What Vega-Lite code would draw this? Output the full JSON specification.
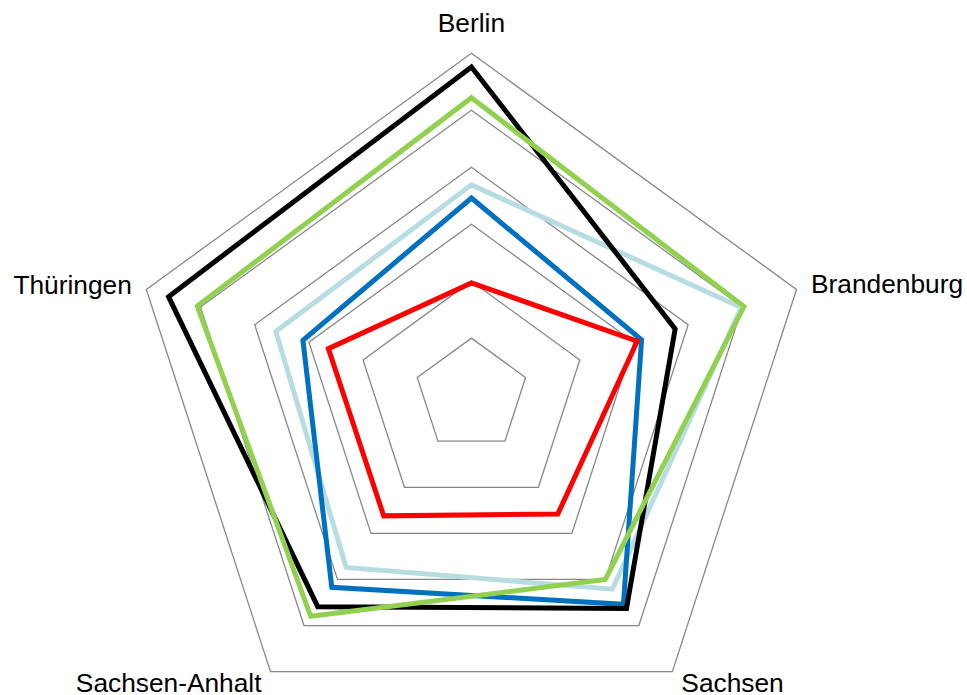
{
  "$schema": "https://vega.github.io/schema/vega-lite/v6.json",
  "width": 967,
  "height": 695,
  "padding": 0,
  "autosize": {"type": "none"},
  "background": "white",
  "config": {"view": {"stroke": null}},
  "datasets": {
    "grid": [
      {"ring": 1, "i": 0}, {"ring": 1, "i": 1}, {"ring": 1, "i": 2}, {"ring": 1, "i": 3}, {"ring": 1, "i": 4},
      {"ring": 2, "i": 0}, {"ring": 2, "i": 1}, {"ring": 2, "i": 2}, {"ring": 2, "i": 3}, {"ring": 2, "i": 4},
      {"ring": 3, "i": 0}, {"ring": 3, "i": 1}, {"ring": 3, "i": 2}, {"ring": 3, "i": 3}, {"ring": 3, "i": 4},
      {"ring": 4, "i": 0}, {"ring": 4, "i": 1}, {"ring": 4, "i": 2}, {"ring": 4, "i": 3}, {"ring": 4, "i": 4},
      {"ring": 5, "i": 0}, {"ring": 5, "i": 1}, {"ring": 5, "i": 2}, {"ring": 5, "i": 3}, {"ring": 5, "i": 4},
      {"ring": 6, "i": 0}, {"ring": 6, "i": 1}, {"ring": 6, "i": 2}, {"ring": 6, "i": 3}, {"ring": 6, "i": 4}
    ],
    "axes": [
      {"land": "Berlin", "i": 0, "r": 6},
      {"land": "Brandenburg", "i": 1, "r": 6},
      {"land": "Sachsen", "i": 2, "r": 6},
      {"land": "Sachsen-Anhalt", "i": 3, "r": 6},
      {"land": "Thüringen", "i": 4, "r": 6}
    ],
    "series": [
      {"s": "S1", "land": "Berlin", "i": 0, "v": 3.69},
      {"s": "S1", "land": "Brandenburg", "i": 1, "v": 4.98},
      {"s": "S1", "land": "Sachsen", "i": 2, "v": 4.21},
      {"s": "S1", "land": "Sachsen-Anhalt", "i": 3, "v": 3.74},
      {"s": "S1", "land": "Thüringen", "i": 4, "v": 3.61},
      {"s": "S2", "land": "Berlin", "i": 0, "v": 3.46},
      {"s": "S2", "land": "Brandenburg", "i": 1, "v": 3.14},
      {"s": "S2", "land": "Sachsen", "i": 2, "v": 4.54},
      {"s": "S2", "land": "Sachsen-Anhalt", "i": 3, "v": 4.17},
      {"s": "S2", "land": "Thüringen", "i": 4, "v": 3.11},
      {"s": "S3", "land": "Berlin", "i": 0, "v": 5.76},
      {"s": "S3", "land": "Brandenburg", "i": 1, "v": 3.76},
      {"s": "S3", "land": "Sachsen", "i": 2, "v": 4.63},
      {"s": "S3", "land": "Sachsen-Anhalt", "i": 3, "v": 4.59},
      {"s": "S3", "land": "Thüringen", "i": 4, "v": 5.59},
      {"s": "S4", "land": "Berlin", "i": 0, "v": 1.97},
      {"s": "S4", "land": "Brandenburg", "i": 1, "v": 3.06},
      {"s": "S4", "land": "Sachsen", "i": 2, "v": 2.58},
      {"s": "S4", "land": "Sachsen-Anhalt", "i": 3, "v": 2.62},
      {"s": "S4", "land": "Thüringen", "i": 4, "v": 2.64},
      {"s": "S5", "land": "Berlin", "i": 0, "v": 5.22},
      {"s": "S5", "land": "Brandenburg", "i": 1, "v": 5.03},
      {"s": "S5", "land": "Sachsen", "i": 2, "v": 4.0},
      {"s": "S5", "land": "Sachsen-Anhalt", "i": 3, "v": 4.8},
      {"s": "S5", "land": "Thüringen", "i": 4, "v": 5.06}
    ]
  },
  "layer": [
    {
      "data": {"name": "grid"},
      "transform": [
        {"calculate": "datum.ring * sin(datum.i * 2 * PI / 5)", "as": "x"},
        {"calculate": "datum.ring * cos(datum.i * 2 * PI / 5)", "as": "y"}
      ],
      "mark": {"type": "line", "interpolate": "linear-closed", "stroke": "#888888", "strokeWidth": 1.3},
      "encoding": {
        "x": {"field": "x", "type": "quantitative", "scale": {"domain": [-8.275, 8.699], "nice": false, "zero": false}, "axis": null},
        "y": {"field": "y", "type": "quantitative", "scale": {"domain": [-5.264, 6.935], "nice": false, "zero": false}, "axis": null},
        "detail": {"field": "ring", "type": "nominal"},
        "order": {"field": "i", "type": "quantitative"}
      }
    },
    {
      "data": {"name": "series"},
      "transform": [
        {"calculate": "datum.v * sin(datum.i * 2 * PI / 5)", "as": "x"},
        {"calculate": "datum.v * cos(datum.i * 2 * PI / 5)", "as": "y"}
      ],
      "mark": {"type": "line", "interpolate": "linear-closed", "strokeWidth": 5, "strokeJoin": "miter"},
      "encoding": {
        "x": {"field": "x", "type": "quantitative", "scale": {"domain": [-8.275, 8.699], "nice": false, "zero": false}, "axis": null},
        "y": {"field": "y", "type": "quantitative", "scale": {"domain": [-5.264, 6.935], "nice": false, "zero": false}, "axis": null},
        "color": {
          "field": "s",
          "type": "nominal",
          "scale": {"domain": ["S1", "S2", "S3", "S4", "S5"], "range": ["#b7dde2", "#0070c0", "#000000", "#ff0000", "#92d050"]},
          "legend": null
        },
        "order": {"field": "i", "type": "quantitative"}
      }
    },
    {
      "data": {"name": "axes"},
      "transform": [
        {"filter": "datum.i == 0"},
        {"calculate": "datum.r * sin(datum.i * 2 * PI / 5)", "as": "x"},
        {"calculate": "datum.r * cos(datum.i * 2 * PI / 5)", "as": "y"}
      ],
      "mark": {"type": "text", "align": "center", "baseline": "alphabetic", "dy": -21.5, "font": "Liberation Sans", "fontSize": 26.3, "fill": "#000000"},
      "encoding": {
        "x": {"field": "x", "type": "quantitative", "scale": {"domain": [-8.275, 8.699], "nice": false, "zero": false}, "axis": null},
        "y": {"field": "y", "type": "quantitative", "scale": {"domain": [-5.264, 6.935], "nice": false, "zero": false}, "axis": null},
        "text": {"field": "land"}
      }
    },
    {
      "data": {"name": "axes"},
      "transform": [
        {"filter": "datum.i == 1"},
        {"calculate": "datum.r * sin(datum.i * 2 * PI / 5)", "as": "x"},
        {"calculate": "datum.r * cos(datum.i * 2 * PI / 5)", "as": "y"}
      ],
      "mark": {"type": "text", "align": "left", "baseline": "alphabetic", "dx": 14.5, "dy": 3.5, "font": "Liberation Sans", "fontSize": 26.3, "fill": "#000000"},
      "encoding": {
        "x": {"field": "x", "type": "quantitative", "scale": {"domain": [-8.275, 8.699], "nice": false, "zero": false}, "axis": null},
        "y": {"field": "y", "type": "quantitative", "scale": {"domain": [-5.264, 6.935], "nice": false, "zero": false}, "axis": null},
        "text": {"field": "land"}
      }
    },
    {
      "data": {"name": "axes"},
      "transform": [
        {"filter": "datum.i == 2"},
        {"calculate": "datum.r * sin(datum.i * 2 * PI / 5)", "as": "x"},
        {"calculate": "datum.r * cos(datum.i * 2 * PI / 5)", "as": "y"}
      ],
      "mark": {"type": "text", "align": "left", "baseline": "alphabetic", "dx": 9, "dy": 20, "font": "Liberation Sans", "fontSize": 26.3, "fill": "#000000"},
      "encoding": {
        "x": {"field": "x", "type": "quantitative", "scale": {"domain": [-8.275, 8.699], "nice": false, "zero": false}, "axis": null},
        "y": {"field": "y", "type": "quantitative", "scale": {"domain": [-5.264, 6.935], "nice": false, "zero": false}, "axis": null},
        "text": {"field": "land"}
      }
    },
    {
      "data": {"name": "axes"},
      "transform": [
        {"filter": "datum.i == 3"},
        {"calculate": "datum.r * sin(datum.i * 2 * PI / 5)", "as": "x"},
        {"calculate": "datum.r * cos(datum.i * 2 * PI / 5)", "as": "y"}
      ],
      "mark": {"type": "text", "align": "right", "baseline": "alphabetic", "dx": -9, "dy": 20, "font": "Liberation Sans", "fontSize": 26.3, "fill": "#000000"},
      "encoding": {
        "x": {"field": "x", "type": "quantitative", "scale": {"domain": [-8.275, 8.699], "nice": false, "zero": false}, "axis": null},
        "y": {"field": "y", "type": "quantitative", "scale": {"domain": [-5.264, 6.935], "nice": false, "zero": false}, "axis": null},
        "text": {"field": "land"}
      }
    },
    {
      "data": {"name": "axes"},
      "transform": [
        {"filter": "datum.i == 4"},
        {"calculate": "datum.r * sin(datum.i * 2 * PI / 5)", "as": "x"},
        {"calculate": "datum.r * cos(datum.i * 2 * PI / 5)", "as": "y"}
      ],
      "mark": {"type": "text", "align": "right", "baseline": "alphabetic", "dx": -14.5, "dy": 5, "font": "Liberation Sans", "fontSize": 26.3, "fill": "#000000"},
      "encoding": {
        "x": {"field": "x", "type": "quantitative", "scale": {"domain": [-8.275, 8.699], "nice": false, "zero": false}, "axis": null},
        "y": {"field": "y", "type": "quantitative", "scale": {"domain": [-5.264, 6.935], "nice": false, "zero": false}, "axis": null},
        "text": {"field": "land"}
      }
    }
  ]
}
